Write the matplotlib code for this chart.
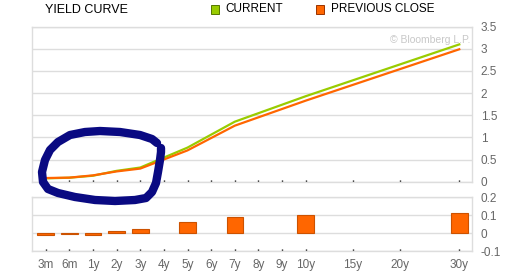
import matplotlib.pyplot as plt
from matplotlib.lines import Line2D
from matplotlib.patches import Rectangle

plt.rcParams['font.family'] = ['Liberation Sans', 'DejaVu Sans']

# x axis categories and their positions
tick_labels = ['3m', '6m', '1y', '2y', '3y', '4y', '5y', '6y', '7y', '8y',
               '9y', '10y', '15y', '20y', '30y']
tick_pos = [0, 1, 2, 3, 4, 5, 6, 7, 8, 9, 10, 11, 13, 15, 17.5]

# maturities with data
maturities = ['3m', '6m', '1y', '2y', '3y', '5y', '7y', '10y', '30y']
current = [0.075, 0.09, 0.135, 0.245, 0.32, 0.77, 1.355, 1.93, 3.10]
previous = [0.083, 0.092, 0.143, 0.232, 0.296, 0.707, 1.265, 1.83, 2.99]
change = [-0.008, -0.003, -0.008, 0.013, 0.024, 0.063, 0.09, 0.10, 0.11]

# hand drawn circle annotation (figure pixels, from top-left)
circle_x = [157, 152, 140, 120, 100, 85, 70, 58, 50, 45, 42, 43, 48, 58, 75, 95,
            115, 135, 146, 152, 156, 158, 160, 161, 161]
circle_y = [143, 139, 135, 132, 131, 132, 135, 142, 150, 160, 172, 182, 189, 193,
            197, 200, 201, 200, 198, 192, 183, 172, 160, 152, 148]

GREEN = '#99cc00'
ORANGE = '#ff6600'
GRID = '#dddddd'
TEXT = '#666666'

pos = dict(zip(tick_labels, tick_pos))
xs = [pos[m] for m in maturities]

fig = plt.figure(figsize=(5.17, 2.71), dpi=100)
ax = fig.add_axes([0.0625, 0.3295, 0.851, 0.572])
ax2 = fig.add_axes([0.0625, 0.0738, 0.851, 0.198])

ax.plot(xs, current, color=GREEN, lw=1.6, solid_joinstyle='miter', zorder=3)
ax.plot(xs, previous, color=ORANGE, lw=1.6, solid_joinstyle='miter', zorder=4)
ax.set_ylim(0, 3.5)
ax.set_yticks([0, 0.5, 1, 1.5, 2, 2.5, 3, 3.5])
ax.set_yticklabels(['0', '0.5', '1', '1.5', '2', '2.5', '3', '3.5'])

ax2.bar(xs, change, width=0.7, color=ORANGE, edgecolor='#cc5200', linewidth=0.8, zorder=3)
ax2.set_ylim(-0.1, 0.2)
ax2.set_yticks([-0.1, 0, 0.1, 0.2])
ax2.set_yticklabels(['-0.1', '0', '0.1', '0.2'])

for a in (ax, ax2):
    a.set_xlim(-0.567, 18.05)
    a.set_xticks(tick_pos)
    a.yaxis.tick_right()
    a.grid(axis='y', color=GRID, lw=1)
    a.set_axisbelow(True)
    for s in a.spines.values():
        s.set_color(GRID)
        s.set_linewidth(1)
    a.tick_params(axis='y', length=0, pad=6, labelsize=8.5, labelcolor=TEXT)
    a.tick_params(axis='x', direction='in', length=1.5, width=1, color='black',
                  labelsize=8.5, labelcolor=TEXT, pad=6)

ax.set_xticklabels([])
ax2.set_xticklabels(tick_labels)

ax.text(0.995, 0.915, '\u00a9 Bloomberg L.P.', transform=ax.transAxes, ha='right',
        va='center', fontsize=7.5, color='#c8c8c8')

# header
fig.text(45 / 517, 1 - 10 / 271, 'YIELD CURVE', fontsize=9, color='black', va='center')
fig.patches.append(Rectangle((211 / 517, 1 - 13.5 / 271), 8 / 517, 8 / 271,
                             transform=fig.transFigure, facecolor=GREEN,
                             edgecolor='#557700', lw=0.7))
fig.text(225 / 517, 1 - 9.5 / 271, 'CURRENT', fontsize=8.5, color='black', va='center')
fig.patches.append(Rectangle((316 / 517, 1 - 13.5 / 271), 8 / 517, 8 / 271,
                             transform=fig.transFigure, facecolor=ORANGE,
                             edgecolor='#993300', lw=0.7))
fig.text(331 / 517, 1 - 9.5 / 271, 'PREVIOUS CLOSE', fontsize=8.5, color='black', va='center')

# hand drawn circle
fig.add_artist(Line2D([x / 517 for x in circle_x], [1 - y / 271 for y in circle_y],
                      transform=fig.transFigure, color='#0a0a82', lw=6,
                      solid_capstyle='round', solid_joinstyle='round', zorder=10))

fig.savefig('out.png', dpi=100)
